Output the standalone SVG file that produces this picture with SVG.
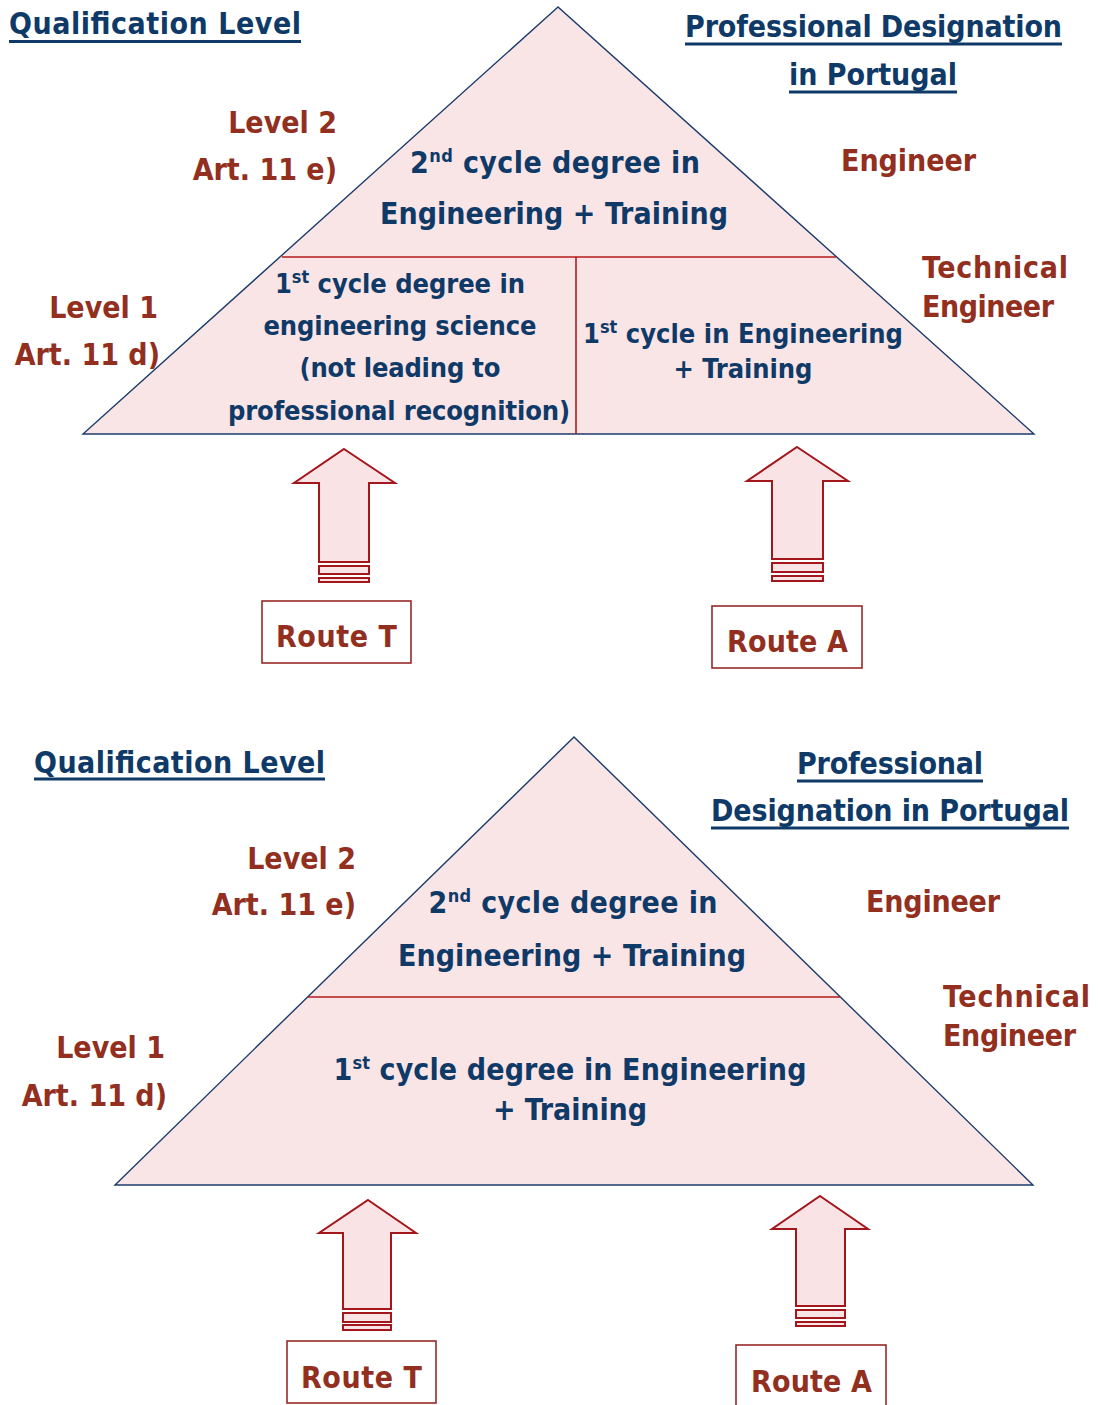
<svg xmlns="http://www.w3.org/2000/svg" width="1098" height="1405" viewBox="0 0 1098 1405">
  <style>
    text { font-family: "DejaVu Sans Condensed", "DejaVu Sans", "Liberation Sans", sans-serif; font-weight: bold; font-stretch: condensed; }
    .navy { fill: #0f3a68; }
    .brown { fill: #922f1e; }
    .t30 { font-size: 30px; }
    .t27 { font-size: 27px; }
    .mid { text-anchor: middle; }
    .end { text-anchor: end; }
    .ul { stroke: #0f3a68; stroke-width: 3; }
    .tri { fill: #fae5e6; stroke: #1b3c6b; stroke-width: 1.4; }
    .div { stroke: #b3191c; stroke-width: 1.6; fill: none; }
    .arrow { fill: #fae3e4; stroke: #a3161c; stroke-width: 2; stroke-linejoin: miter; }
    .box { fill: #ffffff; stroke: #972a28; stroke-width: 1.6; }
    .sup { font-size: 18px; }
  </style>

  <!-- ===== Upper pyramid: two routes into level 1 ===== -->
  <g id="pyramid-a">
    <polygon class="tri" points="558,7 83,434 1034,434"/>
    <line class="div" x1="282" y1="257" x2="836" y2="257"/>
    <line class="div" x1="576" y1="257" x2="576" y2="434"/>
  </g>

  <g id="header-a">
    <text class="navy t30" x="9" y="34" textLength="292">Qualification Level</text>
    <line class="ul" x1="9" y1="41.5" x2="301" y2="41.5"/>
    <text class="navy t30" x="685" y="37" textLength="377">Professional Designation</text>
    <line class="ul" x1="685" y1="44" x2="1062" y2="44"/>
    <text class="navy t30" x="789" y="85" textLength="168">in Portugal</text>
    <line class="ul" x1="789" y1="92" x2="957" y2="92"/>
  </g>

  <g id="level2-a">
    <text class="brown t30 end" x="337" y="133">Level 2</text>
    <text class="brown t30 end" x="337" y="180">Art. 11 e)</text>
    <text class="navy t30 mid" x="555" y="173" textLength="290">2<tspan class="sup" dy="-11">nd</tspan><tspan dy="11"> cycle degree in</tspan></text>
    <text class="navy t30 mid" x="554" y="224" textLength="348">Engineering + Training</text>
    <text class="brown t30" x="841" y="171" textLength="135">Engineer</text>
  </g>

  <g id="level1-a">
    <text class="brown t30 end" x="158" y="318">Level 1</text>
    <text class="brown t30 end" x="160" y="365">Art. 11 d)</text>
    <text class="navy t27 mid" x="400" y="293" textLength="250">1<tspan class="sup" font-size="16" dy="-10">st</tspan><tspan dy="10"> cycle degree in</tspan></text>
    <text class="navy t27 mid" x="400" y="335" textLength="273">engineering science</text>
    <text class="navy t27 mid" x="400" y="377" textLength="201">(not leading to</text>
    <text class="navy t27 mid" x="399" y="420" textLength="342">professional recognition)</text>
    <text class="navy t27 mid" x="743" y="343" textLength="320">1<tspan class="sup" font-size="16" dy="-10">st</tspan><tspan dy="10"> cycle in Engineering</tspan></text>
    <text class="navy t27 mid" x="743" y="378" textLength="139">+ Training</text>
    <text class="brown t30" x="922" y="278" textLength="146">Technical</text>
    <text class="brown t30" x="922" y="317" textLength="132">Engineer</text>
  </g>

  <g id="route-t-a">
    <rect class="box" x="262" y="601" width="149" height="62"/>
    <text class="brown t30" x="276" y="647" textLength="121">Route T</text>
  </g>
  <g id="route-a-a">
    <rect class="box" x="712" y="606" width="150" height="62"/>
    <text class="brown t30" x="727" y="652" textLength="121">Route A</text>
  </g>

  <!-- ===== Lower pyramid: single level 1 block ===== -->
  <g id="pyramid-b">
    <polygon class="tri" points="574,737 115,1185 1033,1185"/>
    <line class="div" x1="308" y1="997" x2="840" y2="997"/>
  </g>

  <g id="header-b">
    <text class="navy t30" x="34" y="773" textLength="291">Qualification Level</text>
    <line class="ul" x1="34" y1="779" x2="325" y2="779"/>
    <text class="navy t30" x="797" y="774" textLength="186">Professional</text>
    <line class="ul" x1="797" y1="781" x2="983" y2="781"/>
    <text class="navy t30" x="711" y="821" textLength="358">Designation in Portugal</text>
    <line class="ul" x1="711" y1="828" x2="1069" y2="828"/>
  </g>

  <g id="level2-b">
    <text class="brown t30 end" x="356" y="869">Level 2</text>
    <text class="brown t30 end" x="356" y="915">Art. 11 e)</text>
    <text class="navy t30 mid" x="573" y="913" textLength="289">2<tspan class="sup" dy="-11">nd</tspan><tspan dy="11"> cycle degree in</tspan></text>
    <text class="navy t30 mid" x="572" y="966" textLength="348">Engineering + Training</text>
    <text class="brown t30" x="866" y="912" textLength="134">Engineer</text>
  </g>

  <g id="level1-b">
    <text class="brown t30 end" x="165" y="1058">Level 1</text>
    <text class="brown t30 end" x="167" y="1106">Art. 11 d)</text>
    <text class="navy t30 mid" x="570" y="1080" textLength="473">1<tspan class="sup" dy="-11">st</tspan><tspan dy="11"> cycle degree in Engineering</tspan></text>
    <text class="navy t30 mid" x="570" y="1120" textLength="154">+ Training</text>
    <text class="brown t30" x="943" y="1007" textLength="147">Technical</text>
    <text class="brown t30" x="943" y="1046" textLength="133">Engineer</text>
  </g>

  <g id="route-t-b">
    <rect class="box" x="287" y="1341" width="149" height="62"/>
    <text class="brown t30" x="301" y="1388" textLength="121">Route T</text>
  </g>
  <g id="route-a-b">
    <rect class="box" x="736" y="1345" width="150" height="64"/>
    <text class="brown t30" x="751" y="1392" textLength="121">Route A</text>
  </g>

  <!-- ===== Block arrows from each route up into the pyramid ===== -->
  <g id="connectors">
    <path class="arrow" d="M344,449 L395,483 L369,483 L369,562 L319,562 L319,483 L294,483 Z"/>
    <rect class="arrow" x="319" y="566" width="50" height="8"/>
    <rect class="arrow" x="319" y="578" width="50" height="4"/>

    <path class="arrow" d="M797,447 L848,481 L823,481 L823,559 L772,559 L772,481 L747,481 Z"/>
    <rect class="arrow" x="772" y="563" width="51" height="9"/>
    <rect class="arrow" x="772" y="576" width="51" height="5"/>

    <path class="arrow" d="M368,1200 L416,1233 L391,1233 L391,1309 L343,1309 L343,1233 L319,1233 Z"/>
    <rect class="arrow" x="343" y="1313" width="48" height="9"/>
    <rect class="arrow" x="343" y="1325" width="48" height="5"/>

    <path class="arrow" d="M820,1196 L868,1229 L845,1229 L845,1306 L796,1306 L796,1229 L772,1229 Z"/>
    <rect class="arrow" x="796" y="1310" width="49" height="8"/>
    <rect class="arrow" x="796" y="1322" width="49" height="4"/>
  </g>
</svg>
